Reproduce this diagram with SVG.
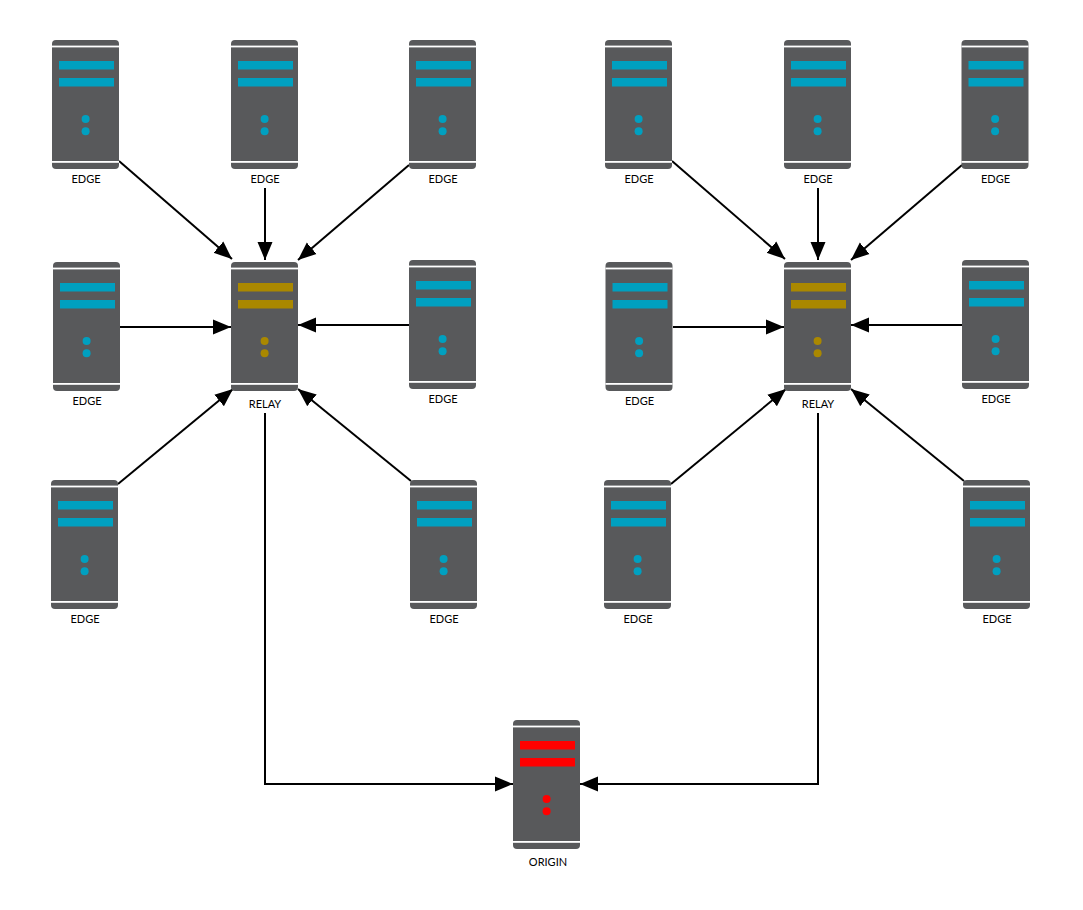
<svg xmlns="http://www.w3.org/2000/svg" width="1083" height="910" viewBox="0 0 1083 910">
<style>
.body{fill:#58595b}
.gap{fill:#fff}
.l{font-family:Lato,"Liberation Sans",sans-serif;font-size:11px;fill:#000;text-anchor:middle}
.c{fill:none;stroke:#000;stroke-width:2}
.e{fill:#00a0c0}.r{fill:#aa8800}.o{fill:#ff0000}
</style>
<defs>
<marker id="a" markerUnits="userSpaceOnUse" markerWidth="19" markerHeight="16" refX="18" refY="8" orient="auto"><path d="M0 .5L18 8L0 15.500Z" fill="#000"/></marker>
<g id="box">
<rect class="body" width="67" height="129" rx="4"/>
<rect class="gap" y="5.600" width="67" height="1.800"/>
<rect class="gap" y="121" width="67" height="1.800"/>
</g>
<g id="bars">
<rect x="7" y="21" width="55" height="8.500"/>
<rect x="7" y="38" width="55" height="8.500"/>
<circle cx="33.600" cy="79" r="4"/>
<circle cx="33.600" cy="91.300" r="4"/>
</g>
</defs>
<g id="connectors" class="c">
<path marker-end="url(#a)" d="M119 161L232 259"/>
<path marker-end="url(#a)" d="M265 188V260"/>
<path marker-end="url(#a)" d="M409 165L298 260"/>
<path marker-end="url(#a)" d="M120 327H231"/>
<path marker-end="url(#a)" d="M409 325H298"/>
<path marker-end="url(#a)" d="M118 484L233 389"/>
<path marker-end="url(#a)" d="M411 481L298 389"/>
<path marker-end="url(#a)" d="M672 161L785 259"/>
<path marker-end="url(#a)" d="M818 188V260"/>
<path marker-end="url(#a)" d="M962 165L851 260"/>
<path marker-end="url(#a)" d="M673 327H784"/>
<path marker-end="url(#a)" d="M962 325H851"/>
<path marker-end="url(#a)" d="M671 484L786 389"/>
<path marker-end="url(#a)" d="M964 481L851 389"/>
<path marker-end="url(#a)" d="M265 413V784H513"/>
<path marker-end="url(#a)" d="M818 413V784H580"/>
</g>
<g id="edge1" transform="translate(52 40)"><use href="#box"/><use href="#bars" class="e"/><text class="l" x="34" y="143">EDGE</text></g>
<g id="edge2" transform="translate(231 40)"><use href="#box"/><use href="#bars" class="e"/><text class="l" x="34" y="143">EDGE</text></g>
<g id="edge3" transform="translate(409 40)"><use href="#box"/><use href="#bars" class="e"/><text class="l" x="34" y="143">EDGE</text></g>
<g id="edge4" transform="translate(53 262)"><use href="#box"/><use href="#bars" class="e"/><text class="l" x="34" y="143">EDGE</text></g>
<g id="relay1" transform="translate(231 262)"><use href="#box"/><use href="#bars" class="r"/><text class="l" x="34" y="146">RELAY</text></g>
<g id="edge5" transform="translate(409 260)"><use href="#box"/><use href="#bars" class="e"/><text class="l" x="34" y="143">EDGE</text></g>
<g id="edge6" transform="translate(51 480)"><use href="#box"/><use href="#bars" class="e"/><text class="l" x="34" y="143">EDGE</text></g>
<g id="edge7" transform="translate(410 480)"><use href="#box"/><use href="#bars" class="e"/><text class="l" x="34" y="143">EDGE</text></g>
<g id="edge8" transform="translate(605 40)"><use href="#box"/><use href="#bars" class="e"/><text class="l" x="34" y="143">EDGE</text></g>
<g id="edge9" transform="translate(784 40)"><use href="#box"/><use href="#bars" class="e"/><text class="l" x="34" y="143">EDGE</text></g>
<g id="edge10" transform="translate(961.500 40)"><use href="#box"/><use href="#bars" class="e"/><text class="l" x="34" y="143">EDGE</text></g>
<g id="edge11" transform="translate(605.500 262)"><use href="#box"/><use href="#bars" class="e"/><text class="l" x="34" y="143">EDGE</text></g>
<g id="relay2" transform="translate(784 262)"><use href="#box"/><use href="#bars" class="r"/><text class="l" x="34" y="146">RELAY</text></g>
<g id="edge12" transform="translate(962 260)"><use href="#box"/><use href="#bars" class="e"/><text class="l" x="34" y="143">EDGE</text></g>
<g id="edge13" transform="translate(604 480)"><use href="#box"/><use href="#bars" class="e"/><text class="l" x="34" y="143">EDGE</text></g>
<g id="edge14" transform="translate(963 480)"><use href="#box"/><use href="#bars" class="e"/><text class="l" x="34" y="143">EDGE</text></g>
<g id="origin" transform="translate(513 720)"><use href="#box"/><use href="#bars" class="o"/><text class="l" x="35" y="146">ORIGIN</text></g>
</svg>
